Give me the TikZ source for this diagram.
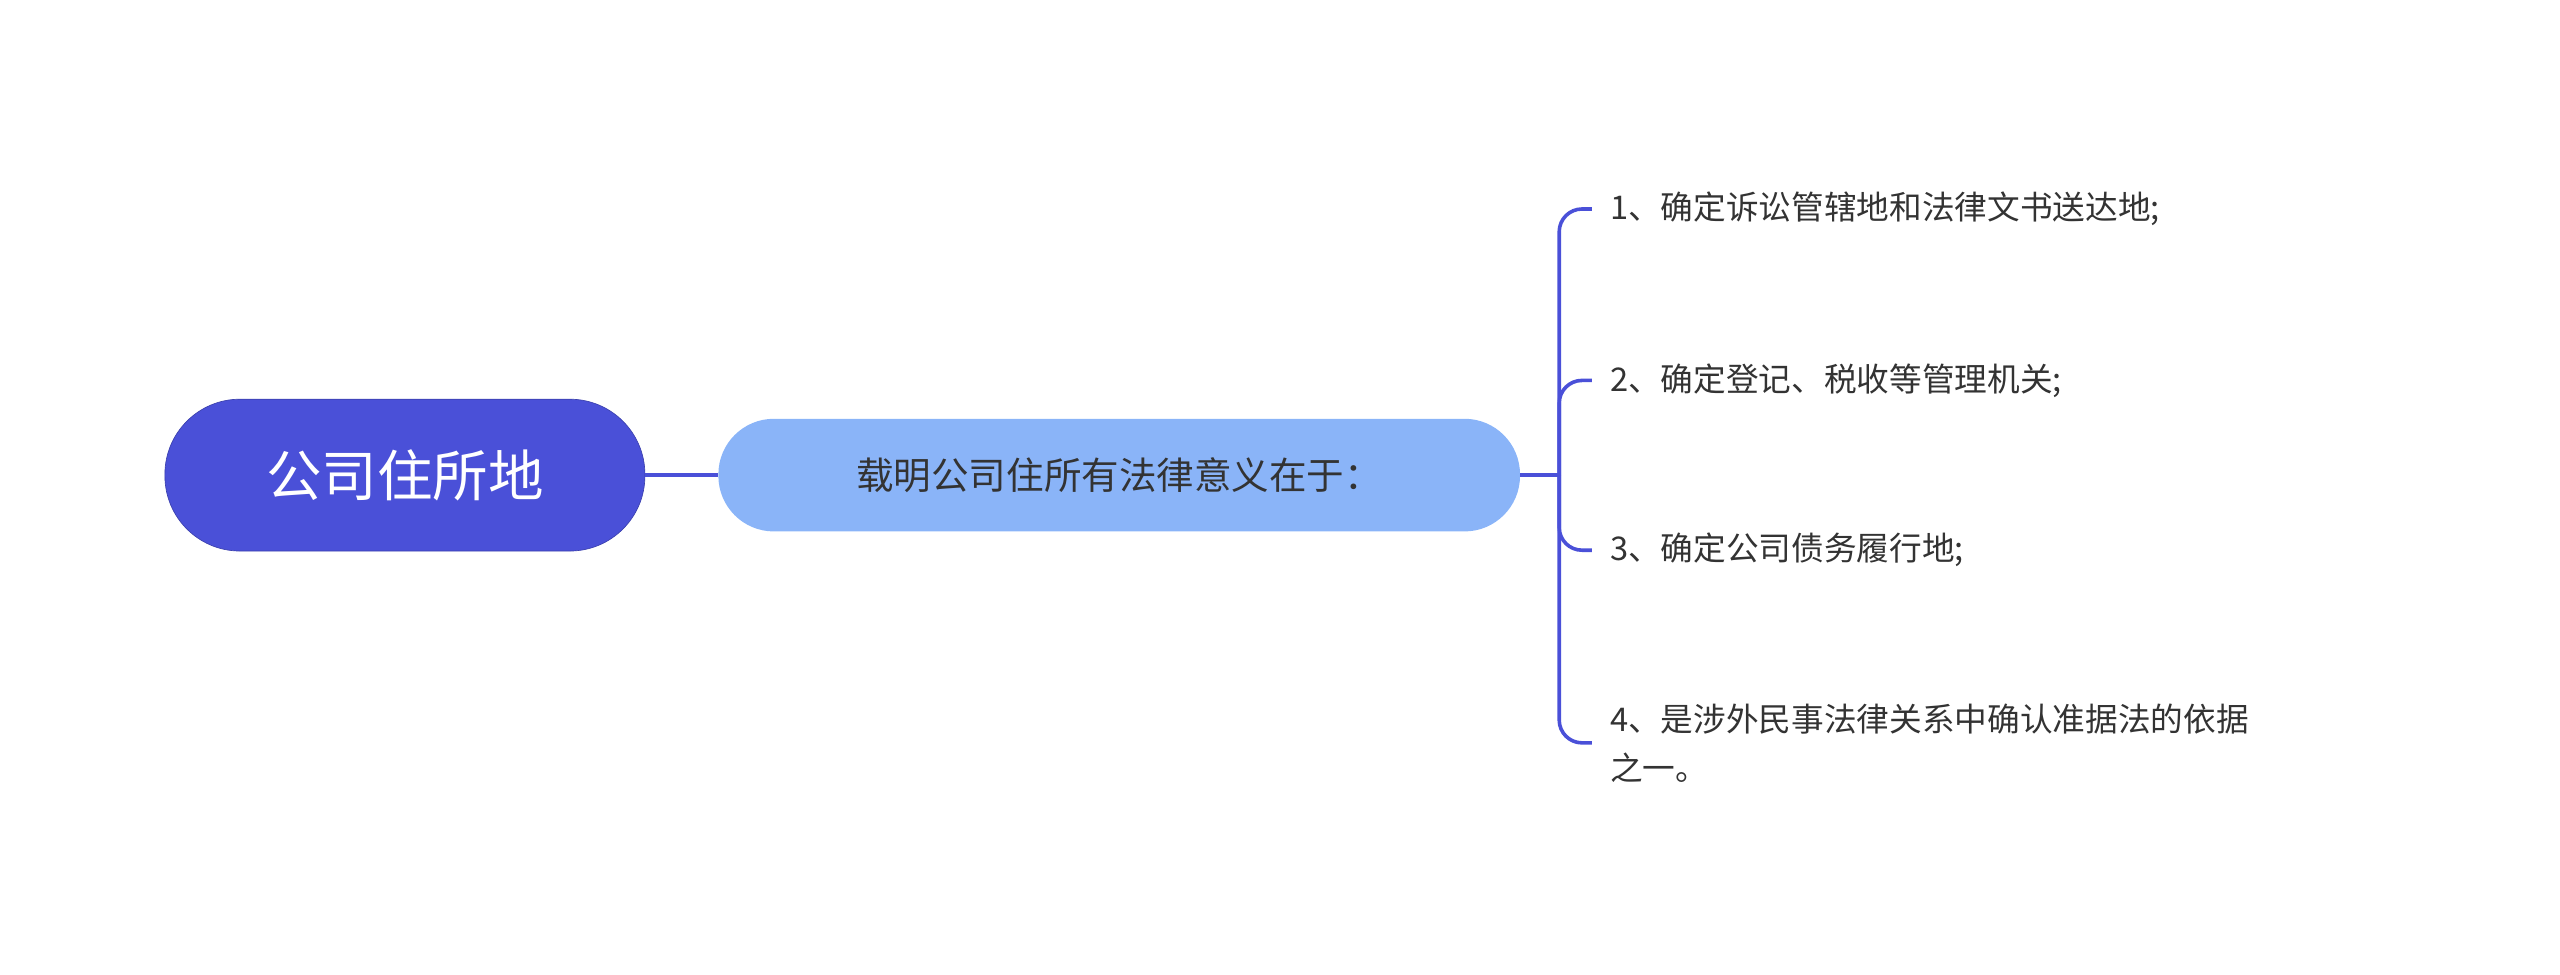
\documentclass[tikz,border=0pt]{standalone}
\usepackage{fontspec}
\setmainfont{Noto Sans CJK SC}
\definecolor{rootc}{HTML}{4A50D8}
\definecolor{midc}{HTML}{8AB4F8}
\definecolor{linec}{HTML}{4A50D8}
\definecolor{txt}{HTML}{333333}
\tikzset{
 rootbox/.style={rounded corners=46pt,fill=rootc,draw=rootc!80!black,minimum width=294pt,minimum height=93pt,text=white,font=\fontsize{34}{40}\selectfont},
 midbox/.style={rounded corners=34pt,fill=midc,minimum width=491pt,minimum height=69pt,text=txt,font=\fontsize{23}{28}\selectfont},
 leafbox/.style={anchor=west,text=txt,font=\fontsize{20}{30}\selectfont,align=left,inner sep=2pt},
 conn/.style={draw=linec,line width=2.2pt},
}
\begin{document}
\begin{tikzpicture}[x=1pt,y=-1pt]
\useasboundingbox (0,0) rectangle (1568,597);
\node[rootbox] (root) at (248,291) {公司住所地};
\node[midbox] (mid) at (685.5,291) {载明公司住所有法律意义在于：};
\node[leafbox] (l1) at (984,128) {1、确定诉讼管辖地和法律文书送达地;};
\node[leafbox] (l2) at (984,233) {2、确定登记、税收等管理机关;};
\node[leafbox] (l3) at (984,337) {3、确定公司债务履行地;};
\node[leafbox] (l4) at (984,455) {4、是涉外民事法律关系中确认准据法的依据\\之一。};
\coordinate (b) at (955,291);
\draw[conn] (root.east) -- (mid.west);
\draw[conn] (mid.east) -- (b);
\foreach \n in {l1,l2,l3,l4}
  \draw[conn,rounded corners=14pt] (b) |- ([xshift=-9pt]\n.west);
\end{tikzpicture}
\end{document}
